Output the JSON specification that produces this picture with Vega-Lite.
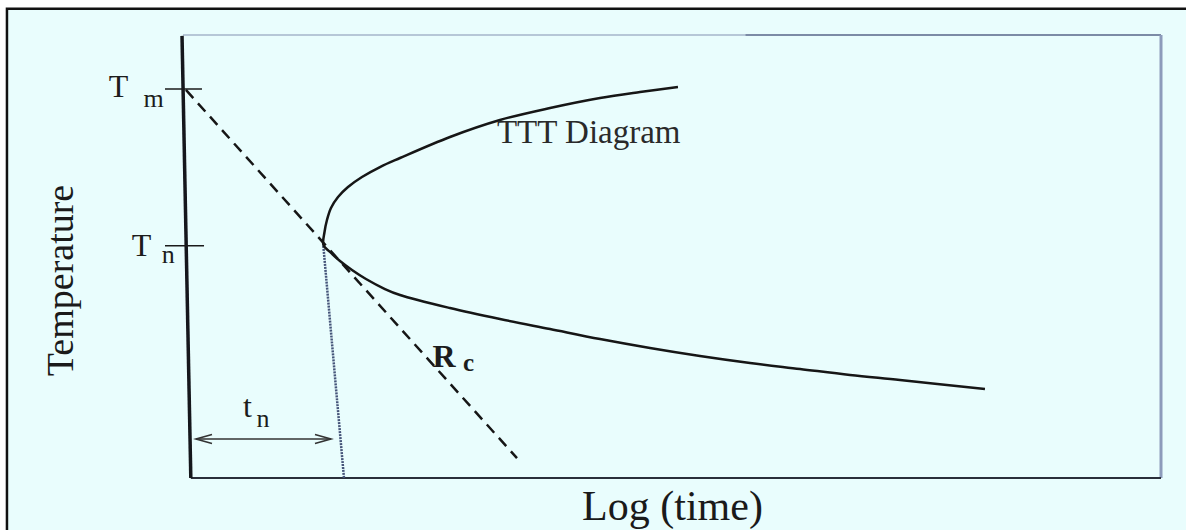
{
  "$schema": "https://vega.github.io/schema/vega-lite/v6.json",
  "width": 978,
  "height": 443,
  "autosize": {"type": "none"},
  "padding": {"left": 183, "top": 35, "right": 25, "bottom": 52},
  "background": "#ffffff",
  "config": {"view": {"stroke": null}, "font": "Liberation Serif"},
  "datasets": {
    "panel": [{"x": -18, "x2": 103.5, "y": -13, "y2": 105.9}],
    "frame": [
      {"edge": "left", "x": -0.1, "y": 99.8, "x2": 0.8, "y2": 0},
      {"edge": "topA", "x": 0, "y": 100, "x2": 57.5, "y2": 100},
      {"edge": "topB", "x": 57.5, "y": 100, "x2": 100, "y2": 100},
      {"edge": "right", "x": 100, "y": 100, "x2": 100, "y2": 0},
      {"edge": "bottom", "x": 0.8, "y": 0, "x2": 100, "y2": 0}
    ],
    "levels": [
      {"level": "Tm", "x": -1.84, "y": 87.8, "x2": 1.94, "y2": 87.8},
      {"level": "Tn", "x": -1.84, "y": 52.4, "x2": 2.15, "y2": 52.4}
    ],
    "nucleation": [{"x": 14.35, "y": 52.4, "x2": 16.46, "y2": 0}],
    "critical": [{"x": 0.3, "y": 87.6, "x2": 34.15, "y2": 4.5}],
    "ttt": [
      {"i": 1, "x": 50.61, "y": 88.26},
      {"i": 2, "x": 46.73, "y": 87.13},
      {"i": 3, "x": 42.64, "y": 85.78},
      {"i": 4, "x": 37.53, "y": 83.52},
      {"i": 5, "x": 32.41, "y": 80.81},
      {"i": 6, "x": 27.3, "y": 76.98},
      {"i": 7, "x": 22.19, "y": 72.23},
      {"i": 8, "x": 20.14, "y": 70.2},
      {"i": 9, "x": 18.3, "y": 67.95},
      {"i": 10, "x": 16.87, "y": 65.69},
      {"i": 11, "x": 15.85, "y": 63.43},
      {"i": 12, "x": 15.13, "y": 60.95},
      {"i": 13, "x": 14.72, "y": 58.24},
      {"i": 14, "x": 14.47, "y": 55.53},
      {"i": 15, "x": 14.36, "y": 52.6},
      {"i": 16, "x": 15.03, "y": 51.02},
      {"i": 17, "x": 16.05, "y": 48.98},
      {"i": 18, "x": 17.28, "y": 46.95},
      {"i": 19, "x": 18.71, "y": 44.92},
      {"i": 20, "x": 20.65, "y": 42.66},
      {"i": 21, "x": 22.19, "y": 41.3},
      {"i": 22, "x": 27.3, "y": 38.37},
      {"i": 23, "x": 32.41, "y": 35.89},
      {"i": 24, "x": 37.53, "y": 33.63},
      {"i": 25, "x": 42.64, "y": 31.37},
      {"i": 26, "x": 47.75, "y": 29.35},
      {"i": 27, "x": 52.86, "y": 27.54},
      {"i": 28, "x": 57.98, "y": 25.96},
      {"i": 29, "x": 63.09, "y": 24.61},
      {"i": 30, "x": 68.2, "y": 23.25},
      {"i": 31, "x": 73.31, "y": 22.12},
      {"i": 32, "x": 82.0, "y": 20.09}
    ],
    "span": [{"x": 1.33, "y": 8.8, "x2": 15.13, "y2": 8.8}],
    "spanStart": [{"x": 1.33, "y": 8.8}],
    "spanEnd": [{"x": 15.13, "y": 8.8}],
    "symbols": [
      {"text": "T", "x": -6.6, "y": 86.0},
      {"text": "T", "x": -4.24, "y": 50.1},
      {"text": "t", "x": 6.6, "y": 13.77}
    ],
    "subscripts": [
      {"text": "m", "x": -3.0, "y": 83.7},
      {"text": "n", "x": -1.5, "y": 48.5},
      {"text": "n", "x": 8.18, "y": 11.5}
    ],
    "rate": [{"text": "R", "x": 26.7, "y": 25.06}],
    "rateSub": [{"text": "c", "x": 29.2, "y": 24.2}],
    "curveName": [{"text": "TTT Diagram", "x": 32.1, "y": 75.6}]
  },
  "encoding": {
    "x": {
      "field": "x",
      "type": "quantitative",
      "scale": {"domain": [0, 100], "nice": false, "zero": false},
      "axis": {
        "title": "Log (time)",
        "zindex": 1,
        "domain": false,
        "ticks": false,
        "labels": false,
        "grid": false,
        "titleFont": "Liberation Serif",
        "titleFontSize": 42,
        "titleFontWeight": "normal",
        "titleColor": "#1a1a1a",
        "titleY": 41,
        "titleBaseline": "alphabetic"
      }
    },
    "y": {
      "field": "y",
      "type": "quantitative",
      "scale": {"domain": [0, 100], "nice": false, "zero": false},
      "axis": {
        "title": "Temperature",
        "zindex": 1,
        "domain": false,
        "ticks": false,
        "labels": false,
        "grid": false,
        "titleFont": "Liberation Serif",
        "titleFontSize": 38,
        "titleFontWeight": "normal",
        "titleColor": "#1a1a1a",
        "titleAngle": 270,
        "titleAlign": "center",
        "titleBaseline": "alphabetic",
        "titleX": -111,
        "titleY": 245
      }
    }
  },
  "layer": [
    {
      "data": {"name": "panel"},
      "mark": {"type": "rect", "fill": "#e9fdfd", "stroke": "#111111", "strokeWidth": 2.5, "clip": false},
      "encoding": {"x2": {"field": "x2"}, "y2": {"field": "y2"}}
    },
    {
      "data": {"name": "frame"},
      "transform": [{"filter": "datum.edge == 'topA'"}],
      "mark": {"type": "rule", "color": "#a5b4ca", "strokeWidth": 1.5, "clip": false},
      "encoding": {"x2": {"field": "x2"}, "y2": {"field": "y2"}}
    },
    {
      "data": {"name": "frame"},
      "transform": [{"filter": "datum.edge == 'topB'"}],
      "mark": {"type": "rule", "color": "#7c8ba6", "strokeWidth": 2, "clip": false},
      "encoding": {"x2": {"field": "x2"}, "y2": {"field": "y2"}}
    },
    {
      "data": {"name": "frame"},
      "transform": [{"filter": "datum.edge == 'right'"}],
      "mark": {"type": "rule", "color": "#8d9bbb", "strokeWidth": 3, "clip": false},
      "encoding": {"x2": {"field": "x2"}, "y2": {"field": "y2"}}
    },
    {
      "data": {"name": "frame"},
      "transform": [{"filter": "datum.edge == 'bottom'"}],
      "mark": {"type": "rule", "color": "#2a2f3a", "strokeWidth": 2, "clip": false},
      "encoding": {"x2": {"field": "x2"}, "y2": {"field": "y2"}}
    },
    {
      "data": {"name": "frame"},
      "transform": [{"filter": "datum.edge == 'left'"}],
      "mark": {"type": "rule", "color": "#15171c", "strokeWidth": 3.5, "clip": false},
      "encoding": {"x2": {"field": "x2"}, "y2": {"field": "y2"}}
    },
    {
      "data": {"name": "levels"},
      "mark": {"type": "rule", "color": "#1a1a1a", "strokeWidth": 1.5, "clip": false},
      "encoding": {"x2": {"field": "x2"}, "y2": {"field": "y2"}}
    },
    {
      "data": {"name": "nucleation"},
      "mark": {"type": "rule", "color": "#46557a", "strokeWidth": 2.5, "strokeDash": [2, 1], "clip": false},
      "encoding": {"x2": {"field": "x2"}, "y2": {"field": "y2"}}
    },
    {
      "data": {"name": "critical"},
      "mark": {"type": "rule", "color": "#161616", "strokeWidth": 2.5, "strokeDash": [11, 7], "clip": false},
      "encoding": {"x2": {"field": "x2"}, "y2": {"field": "y2"}}
    },
    {
      "data": {"name": "ttt"},
      "mark": {"type": "line", "interpolate": "catmull-rom", "color": "#161616", "strokeWidth": 2.5, "clip": false},
      "encoding": {"order": {"field": "i", "type": "quantitative"}}
    },
    {
      "data": {"name": "span"},
      "mark": {"type": "rule", "color": "#333333", "strokeWidth": 1.6, "clip": false},
      "encoding": {"x2": {"field": "x2"}, "y2": {"field": "y2"}}
    },
    {
      "data": {"name": "spanStart"},
      "mark": {"type": "point", "shape": "M1.6,-0.45L0,0L1.6,0.45", "size": 400, "filled": false, "color": "#333333", "strokeWidth": 1.6, "opacity": 1, "clip": false}
    },
    {
      "data": {"name": "spanEnd"},
      "mark": {"type": "point", "shape": "M-1.6,-0.45L0,0L-1.6,0.45", "size": 400, "filled": false, "color": "#333333", "strokeWidth": 1.6, "opacity": 1, "clip": false}
    },
    {
      "data": {"name": "symbols"},
      "mark": {"type": "text", "font": "Liberation Serif", "fontSize": 32, "color": "#1c1c1c", "align": "center", "baseline": "alphabetic", "clip": false},
      "encoding": {"text": {"field": "text"}}
    },
    {
      "data": {"name": "subscripts"},
      "mark": {"type": "text", "font": "Liberation Serif", "fontSize": 26, "color": "#1c1c1c", "align": "center", "baseline": "alphabetic", "clip": false},
      "encoding": {"text": {"field": "text"}}
    },
    {
      "data": {"name": "rate"},
      "mark": {"type": "text", "font": "Liberation Serif", "fontSize": 32, "fontWeight": "bold", "color": "#1c1c1c", "align": "center", "baseline": "alphabetic", "clip": false},
      "encoding": {"text": {"field": "text"}}
    },
    {
      "data": {"name": "rateSub"},
      "mark": {"type": "text", "font": "Liberation Serif", "fontSize": 25, "fontWeight": "bold", "color": "#1c1c1c", "align": "center", "baseline": "alphabetic", "clip": false},
      "encoding": {"text": {"field": "text"}}
    },
    {
      "data": {"name": "curveName"},
      "mark": {"type": "text", "font": "Liberation Serif", "fontSize": 33, "color": "#2a2a2a", "align": "left", "baseline": "alphabetic", "clip": false},
      "encoding": {"text": {"field": "text"}}
    }
  ]
}
